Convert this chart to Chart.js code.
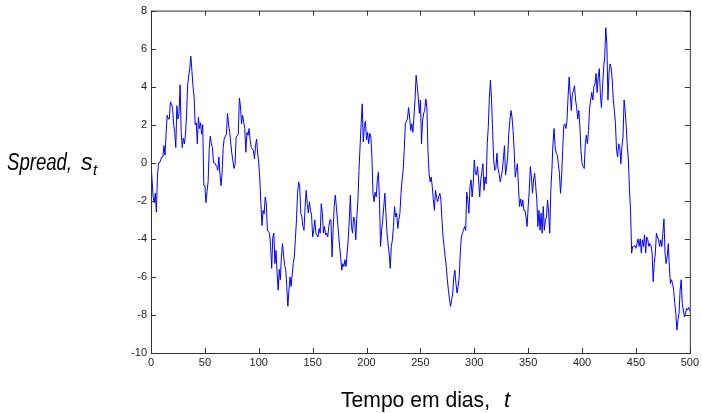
<!DOCTYPE html>
<html>
<head>
<meta charset="utf-8">
<script src="https://cdn.jsdelivr.net/npm/chart.js@4/dist/chart.umd.min.js"></script>
<style>
  body { margin: 0; background: #fff; }
  canvas { display: block; }
</style>
</head>
<body>
<canvas id="spreadChart" width="702" height="413"></canvas>
<script>
// spread value per day (index = day), null where not read from the picture
const spread = [
  0, null, -1.8, -2.1, -1.6, -2.6, -0.7, 0, 0, null,
  0.3, 0.3, 0.9, 0.4, 1.5, 2.5, 2.3, 2.3, 3.2, 3.1,
  2.9, 2.0, 1.6, 0.8, 3.0, 2.3, 2.6, 4.1, 1.6, 0.8,
  1.3, 1.0, 1.5, 2.5, 4.1, null, 5.0, 5.6, 4.8, 4.0,
  3.5, 2.0, 2.1, 1.0, 2.4, 1.8, 2.1, 1.5, 2.0, -1.2,
  -1.2, -2.1, -1.5, -1.0, 0.7, 1.4, 1.0, 0.8, 0, 0,
  null, -0.2, -0.4, 0.3, -0.6, -1.2, -0.5, 0.8, 1.3, null,
  1.5, 2.6, 2.0, 1.6, null, 0.5, null, -0.3, -0.1, 1.35,
  null, 1.5, 3.4, 3.0, 2.05, 2.5, null, 1.8, 0.55, 1.6,
  1.45, 1.8, 1.2, 0.8, null, 0.65, 0.2, 0.9, 1.25, 0.5,
  0, -0.9, -2.15, -3.3, -2.5, -2.7, -1.8, -2.15, -3.55, null,
  -3.7, -4.4, -5.55, -3.9, -3.7, -5.3, -4.6, -5.8, -6.7, -5.6,
  -6.15, -4.95, -4.25, null, -5.4, -5.6, -6.5, -7.55, -6.7, -6.0,
  -6.5, null, -5.3, -4.95, -4.0, -3.0, -1.6, -1.0, -1.25, -2.65,
  -2.85, -3.35, -3.55, -2.3, -1.45, -2.15, -2.65, -2.05, -2.5, -2.75,
  -3.9, -3.55, -3.0, -3.7, null, -3.9, -3.45, -3.7, -2.15, -2.65,
  -3.7, -3.35, -3.8, -3.7, -3.9, -3.35, -3.0, -3.0, -4.95, -3.55,
  -2.3, -1.7, -2.3, -3.0, -3.7, -4.4, -4.95, -5.65, -5.3, -5.45,
  -5.1, -5.45, -4.75, -4.05, -3.0, -1.7, -3.35, -3.7, -2.85, -3.0,
  -4.05, -2.85, -1.95, -0.4, 0.85, 2.05, 3.1, 1.1, 1.9, 2.2,
  1.2, 1.6, 1.0, 1.55, 1.35, 0.3, -1.6, -2.05, -1.55, -1.8,
  -0.9, -0.5, -1.95, -4.4, -3.55, -3.0, -2.3, -1.6, -2.65, -3.7,
  -4.25, -4.75, -5.55, -4.4, -4.05, -3.35, -2.3, -2.85, -2.65, -3.45,
  -3.0, -2.65, -1.6, -0.9, -0.4, 0.65, 2.05, 2.2, 2.3, 2.9,
  2.4, 1.7, 2.05, 1.6, 2.4, 3.3, 4.6, 4.05, 3.45, 2.6,
  3.3, 1.0, 2.2, 2.6, 2.75, 3.35, 2.9, 0.65, -0.55, -1.0,
  -0.75, -1.25, -1.95, -2.5, -1.45, -1.8, -2.05, -1.8, -1.6, -1.95,
  -3.0, -3.9, -4.4, -4.95, -5.45, -6.15, -6.7, -7.2, -7.55, -7.2,
  -6.85, -6.0, -5.65, -6.35, -6.85, -6.5, -6.0, -4.75, -3.9, -3.7,
  -3.55, -3.35, -3.55, -1.55, -1.95, -2.65, -1.25, -0.9, -1.8, -1.1,
  0.15, -0.55, -0.65, -0.2, -0.9, -1.8, -0.9, -0.5, -0.05, -1.45,
  -0.75, -1.1, 1.0, 1.9, 3.45, 4.35, 3.3, 1.7, 0.15, -0.4,
  -0.3, 0.5, -0.3, -0.55, -1.0, -0.75, -0.4, 0.2, 0.9, -0.65,
  -0.2, 0.3, 1.55, 2.2, 2.75, 2.4, 1.7, 0.65, -0.75, -0.4,
  -0.05, -1.25, -2.3, -1.9, -2.3, -1.95, -2.5, -2.5, -2.85, -3.35,
  -2.3, -1.45, -0.2, -0.75, -1.6, -0.9, -0.55, -1.25, -1.95, -3.35,
  -2.5, -3.55, -2.65, -3.7, -2.3, -3.55, -3.0, -2.85, -1.95, -2.65,
  -3.7, -1.45, -0.4, 1.0, 1.8, 0.85, 0.5, 0.4, -0.05, -0.55,
  -1.6, -0.75, 0.65, 1.95, 2.05, 1.8, 2.2, 3.45, 4.5, 3.6,
  2.75, 3.6, 3.8, 4.05, 3.3, 2.9, 2.3, 2.75, 1.9, 0.65,
  -0.05, -0.2, -0.3, 1.0, 1.45, 1.0, 1.7, 2.9, 3.3, 3.7,
  3.3, 4.0, 4.15, 4.7, 3.7, 4.5, 4.95, 3.6, 2.9, 4.0,
  5.0, 5.55, 7.1, 6.25, 3.3, 4.7, 5.2, 5.0, 4.35, 3.3,
  2.75, 2.05, 0.65, 0.3, 1.0, 0.85, -0.05, 0.85, 1.35, 3.3,
  2.75, 1.9, 0.85, 0.15, -1.45, -2.5, -4.75, -4.4, -4.4, -4.35,
  -4.5, -4.25, -4.0, -4.4, -4.0, -4.75, -4.05, -4.4, -3.8, -4.75,
  -3.9, -4.05, -4.4, -4.25, -4.35, -4.75, -6.25, -5.3, -4.75, -3.7,
  -3.9, -4.05, -4.4, -4.05, -4.4, -3.7, -2.95, -4.75, -5.3, -4.95,
  -4.25, -5.45, -6.35, -6.15, -6.35, -6.7, -7.4, -7.9, -8.8, -8.25,
  -7.9, -6.7, -6.15, -7.4, -7.75, -8.1, -7.9, -7.65, -7.75, -7.6,
  -7.8
];

const xTicks = [0, 50, 100, 150, 200, 250, 300, 350, 400, 450, 500];
const yTicks = [-10, -8, -6, -4, -2, 0, 2, 4, 6, 8];

const points = spread
  .map((v, i) => ({ x: i, y: v }))
  .filter(p => p.y !== null);

// matlab style box with inward ticks, plus the axis labels
const boxPlugin = {
  id: "box",
  afterDraw(chart) {
    const c = chart.ctx;
    const a = chart.chartArea;
    const sx = chart.scales.x;
    const sy = chart.scales.y;
    c.save();
    c.strokeStyle = "#333";
    c.lineWidth = 1;
    c.strokeRect(a.left + 0.5, a.top + 0.5, a.right - a.left, a.bottom - a.top);
    c.beginPath();
    xTicks.forEach(t => {
      const px = Math.round(sx.getPixelForValue(t)) + 0.5;
      c.moveTo(px, a.bottom); c.lineTo(px, a.bottom - 5);
      c.moveTo(px, a.top); c.lineTo(px, a.top + 5);
    });
    yTicks.forEach(t => {
      const py = Math.round(sy.getPixelForValue(t)) + 0.5;
      c.moveTo(a.left, py); c.lineTo(a.left + 5, py);
      c.moveTo(a.right, py); c.lineTo(a.right - 5, py);
    });
    c.stroke();

    c.fillStyle = "#000";
    c.textBaseline = "alphabetic";
    c.textAlign = "left";
    c.font = 'italic 23px "Liberation Sans"';
    c.fillText("Spread,", 7, 170, 65);
    c.fillText("s", 81, 170);
    c.font = 'italic 15px "Liberation Sans"';
    c.fillText("t", 93, 175);

    c.font = '22px "Liberation Sans"';
    c.fillText("Tempo em dias,", 341, 407, 149);
    c.font = 'italic 22px "Liberation Sans"';
    c.fillText("t", 504, 407);
    c.restore();
  }
};

const tickFont = { family: "Liberation Sans", size: 11 };

new Chart(document.getElementById("spreadChart").getContext("2d"), {
  type: "line",
  data: {
    datasets: [
      {
        data: points,
        borderColor: "#0000ff",
        borderWidth: 1,
        pointRadius: 0,
        tension: 0,
        fill: false,
      },
    ],
  },
  options: {
    responsive: false,
    animation: false,
    devicePixelRatio: 1,
    layout: { padding: { left: 0, right: 9, top: 10, bottom: 0 } },
    plugins: { legend: { display: false }, tooltip: { enabled: false } },
    scales: {
      x: {
        type: "linear",
        min: 0,
        max: 500,
        afterFit: s => { s.height = 60; },
        afterBuildTicks: s => { s.ticks = xTicks.map(v => ({ value: v })); },
        grid: { display: false, drawTicks: false },
        border: { display: false },
        ticks: { padding: 3, color: "#222", font: tickFont, maxRotation: 0 },
      },
      y: {
        min: -10,
        max: 8,
        afterFit: s => { s.width = 151; },
        afterBuildTicks: s => { s.ticks = yTicks.map(v => ({ value: v })); },
        grid: { display: false, drawTicks: false },
        border: { display: false },
        ticks: { padding: 4, color: "#222", font: tickFont },
      },
    },
  },
  plugins: [boxPlugin],
});
</script>
</body>
</html>
